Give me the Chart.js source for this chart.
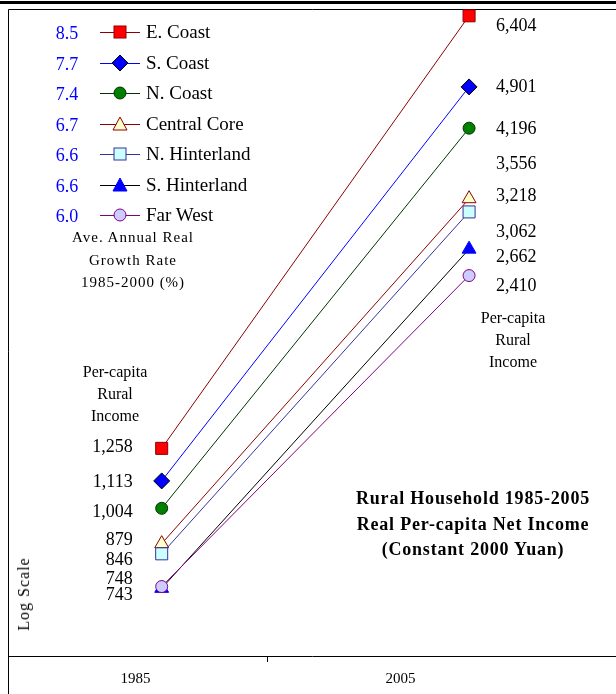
<!DOCTYPE html>
<html>
<head>
<meta charset="utf-8">
<script src="https://cdn.jsdelivr.net/npm/chart.js@4.4.1/dist/chart.umd.min.js"></script>
<style>
  body { margin: 0; background: #fff; }
  #wrap { position: relative; width: 616px; height: 694px; overflow: hidden; font-family: "Liberation Serif", "Times New Roman", serif; }
  #chart { position: absolute; left: 0; top: 0; }
  .txt { position: absolute; white-space: nowrap; transform: translate(-50%, -50%); color: #000; }
  .row { position: absolute; height: 20px; display: flex; align-items: center; }
</style>
</head>
<body>
<div id="wrap">
  <canvas id="chart" width="616" height="694"></canvas>
</div>
<script>
// data
const regions = ['E. Coast', 'S. Coast', 'N. Coast', 'Central Core', 'N. Hinterland', 'S. Hinterland', 'Far West'];
const growthRate = [8.5, 7.7, 7.4, 6.7, 6.6, 6.6, 6.0];
const years = [1985, 2005];
const income1985 = [1258, 1113, 1004, 879, 846, 743, 748];
const income2005 = [6404, 4901, 4196, 3218, 3062, 2662, 2410];
// value labels as printed beside the markers
const labels1985 = [1258, 1113, 1004, 879, 846, 748, 743];
const labels2005 = [6404, 4901, 4196, 3556, 3218, 3062, 2662, 2410];

// styles
const lineColors = ['#8b0000', '#0000ff', '#003300', '#8b0000', '#333399', '#000000', '#800080'];
const fillColors = ['#ff0000', '#0000ff', '#008000', '#ffffcc', '#ccffff', '#0000ff', '#ccccff'];
const edgeColors = ['#8b0000', '#000000', '#003300', '#8b0000', '#333399', '#0000ff', '#800080'];
const markers = ['rect', 'rectRot', 'circle', 'triangle', 'rect', 'triangle', 'circle'];
const markerSize = { rect: 8.5, rectRot: 8, circle: 6, triangle: 8 };
// small vertical nudges so labels sit where the original put them
const nudge1985 = [-1, 1, 4, -3, 6, -7, 7];
const nudge2005 = [10, 0, 1, -8, -2, 20, 8, 11];

const fmt = v => v.toLocaleString('en-US');
const serif = '"Liberation Serif", "Times New Roman", serif';

const datasets = regions.map((name, i) => ({
    label: name,
    data: [{ x: years[0], y: income1985[i] }, { x: years[1], y: income2005[i] }],
    borderColor: lineColors[i],
    borderWidth: 1,
    pointStyle: markers[i],
    pointRadius: markerSize[markers[i]],
    pointBackgroundColor: fillColors[i],
    pointBorderColor: edgeColors[i],
    pointBorderWidth: 1,
    clip: false,
    order: -i
}));

const framePlugin = {
    id: 'frame',
    beforeDraw(chart) {
        const { ctx, chartArea } = chart;
        ctx.save();
        ctx.fillStyle = '#000';
        ctx.fillRect(0, 1, chart.width, 3);
        ctx.strokeStyle = '#000';
        ctx.lineWidth = 1;
        ctx.beginPath();
        ctx.moveTo(chartArea.left + 0.5, chartArea.top + 0.5);
        ctx.lineTo(chart.width, chartArea.top + 0.5);
        ctx.moveTo(chartArea.left + 0.5, chartArea.top + 0.5);
        ctx.lineTo(chartArea.left + 0.5, chart.height);
        ctx.stroke();
        ctx.restore();
    }
};

const valueLabels = {
    id: 'valueLabels',
    afterDatasetsDraw(chart) {
        const { ctx } = chart;
        const xs = chart.scales.x, ys = chart.scales.y;
        ctx.save();
        ctx.font = '18px ' + serif;
        ctx.fillStyle = '#000';
        ctx.textBaseline = 'middle';
        ctx.textAlign = 'right';
        const xl = xs.getPixelForValue(years[0]) - 29;
        labels1985.forEach((v, i) => ctx.fillText(fmt(v), xl, ys.getPixelForValue(v) + nudge1985[i]));
        ctx.textAlign = 'left';
        const xr = xs.getPixelForValue(years[1]) + 27;
        labels2005.forEach((v, i) => ctx.fillText(fmt(v), xr, ys.getPixelForValue(v) + nudge2005[i]));
        ctx.restore();
    }
};

new Chart(document.getElementById('chart'), {
    type: 'line',
    data: { datasets },
    options: {
        responsive: false,
        animation: false,
        layout: { autoPadding: false, padding: { top: 9, left: 8, right: 0, bottom: 0 } },
        plugins: { legend: { display: false }, tooltip: { enabled: false } },
        scales: {
            x: { type: 'linear', min: 1975.0, max: 2014.56, display: false },
            x2: {
                type: 'linear',
                position: 'bottom',
                min: 0.0189,
                max: 2.3132,
                afterBuildTicks: s => { s.ticks = [{ value: 0.5 }, { value: 1 }, { value: 1.5 }]; },
                afterFit: s => { s.height = 38; },
                border: { display: true, color: '#000', width: 1 },
                grid: {
                    drawOnChartArea: false,
                    tickLength: 6,
                    color: c => (c.tick && c.tick.value === 1) ? '#000' : 'rgba(0,0,0,0)'
                },
                ticks: {
                    autoSkip: false,
                    maxRotation: 0,
                    padding: 8,
                    color: '#000',
                    font: { family: serif, size: 15 },
                    callback: v => v === 0.5 ? String(years[0]) : v === 1.5 ? String(years[1]) : ''
                }
            },
            y: { type: 'logarithmic', min: 576, max: 6570, display: false }
        }
    },
    plugins: [framePlugin, valueLabels]
});

// legend and notes
const wrap = document.getElementById('wrap');
function place(lines, x, y0, gap, css) {
    lines.forEach((t, k) => {
        const d = document.createElement('div');
        d.className = 'txt';
        d.textContent = t;
        d.style.left = x + 'px';
        d.style.top = (y0 + k * gap) + 'px';
        Object.assign(d.style, css || {});
        wrap.appendChild(d);
    });
}

function markerSvg(i) {
    const s = markers[i], f = fillColors[i], e = edgeColors[i];
    let m;
    if (s === 'rect') m = `<rect x="14" y="2" width="12" height="12" fill="${f}" stroke="${e}"/>`;
    else if (s === 'rectRot') m = `<polygon points="20,0 28,8 20,16 12,8" fill="${f}" stroke="${e}"/>`;
    else if (s === 'circle') m = `<circle cx="20" cy="8" r="6" fill="${f}" stroke="${e}"/>`;
    else m = `<polygon points="20,1 27,14 13,14" fill="${f}" stroke="${e}"/>`;
    return `<svg width="40" height="16"><line x1="0" y1="8.5" x2="40" y2="8.5" stroke="${lineColors[i]}" stroke-width="1"/>${m}</svg>`;
}

regions.forEach((name, i) => {
    const y = 32 + i * 30.5;
    const num = document.createElement('div');
    num.className = 'txt';
    num.textContent = growthRate[i].toFixed(1);
    Object.assign(num.style, { left: '67px', top: (y + 1) + 'px', color: '#0000ff', fontSize: '18px' });
    wrap.appendChild(num);
    const row = document.createElement('div');
    row.className = 'row';
    row.style.left = '100px';
    row.style.top = (y - 10) + 'px';
    row.innerHTML = markerSvg(i) + `<span style="margin-left:6px;font-size:19px;">${name}</span>`;
    wrap.appendChild(row);
});

place(['Ave. Annual Real', 'Growth Rate', '1985-2000 (%)'], 133, 237, 22.5, { fontSize: '15px', letterSpacing: '1px' });
place(['Per-capita', 'Rural', 'Income'], 513, 318, 22, { fontSize: '16px' });
place(['Per-capita', 'Rural', 'Income'], 115, 372, 22, { fontSize: '16px' });
place(['Rural Household 1985-2005', 'Real Per-capita Net Income', '(Constant 2000 Yuan)'], 473, 498, 25.5,
    { fontSize: '18px', fontWeight: 'bold', letterSpacing: '0.8px' });
place(['Log Scale'], 24, 594, 0, { fontSize: '16px', letterSpacing: '1px', transform: 'translate(-50%, -50%) rotate(-90deg)' });
</script>
</body>
</html>
